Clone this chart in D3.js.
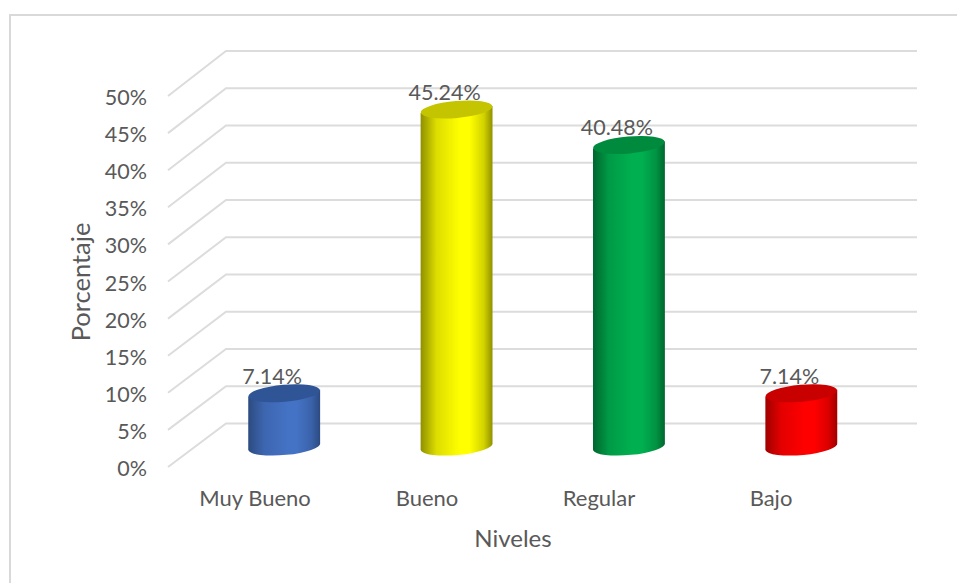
<!DOCTYPE html>
<html><head><meta charset="utf-8">
<script src="https://cdn.jsdelivr.net/npm/d3@7"></script>
<style>html,body{margin:0;padding:0;background:#fff}svg{display:block}text{font-family:Lato,"Open Sans",sans-serif;fill:#595959}</style>
</head><body><svg id="c" width="957" height="583"></svg>
<script>
const categories = ["Muy Bueno","Bueno","Regular","Bajo"];
const values = [7.14,45.24,40.48,7.14];
const valueLabels = ["7.14%","45.24%","40.48%","7.14%"];
const sideColors = ["#4472C4","#FFFF00","#00B050","#FF0000"];
const edgeColors = ["#2C4A80","#8F8F00","#00662E","#A00000"];
const topColors = ["#2F5597","#C4C400","#008A3E","#C80000"];
const ticks = [0,5,10,15,20,25,30,35,40,45,50];
const yTitle = "Porcentaje", xTitle = "Niveles";

const svg=d3.select("#c");
const yFront=d3.scaleLinear().domain([0,50]).range([467,96]);
const yBack=d3.scaleLinear().domain([0,50]).range([423.5,51]);
const yBar=d3.scaleLinear().domain([0,50]).range([446.5,74]);
const x=d3.scaleBand().domain(categories).range([198,887.5]).paddingInner(0.583).paddingOuter(0.2915);
const xLabel=d3.scaleBand().domain(categories).range([169,857]);

svg.append("path").attr("d","M10,583V15H957").attr("fill","none").attr("stroke","#d9d9d9").attr("stroke-width",2);

const g=svg.append("g");
ticks.forEach(t=>{
  g.append("polyline").attr("fill","none").attr("stroke","#dcdcdc").attr("stroke-width",2)
   .attr("points",`168,${yFront(t)} 226,${yBack(t)} 917,${yBack(t)}`);
  svg.append("text").attr("x",147).attr("y",yFront(t)+9).attr("text-anchor","end").attr("font-size",21.5).text(t+"%");
});

const defs=svg.append("defs");
categories.forEach((c,i)=>{
  const gr=defs.append("linearGradient").attr("id","g"+i);
  const mix=d3.interpolateRgb(edgeColors[i],sideColors[i]);
  [[0,mix(0)],[0.22,mix(0.7)],[0.55,mix(1)],[0.68,mix(1)],[0.88,mix(0.6)],[1,mix(0)]].forEach(s=>gr.append("stop").attr("offset",s[0]).attr("stop-color",s[1]));
  const rx=x.bandwidth()/2, ry=8.5, cx=x(c)+rx, dy=3.5, rot=-5;
  const yb=yBar(0), yt=yBar(values[i]);
  svg.append("path").attr("fill",`url(#g${i})`)
    .attr("d",`M${cx-rx},${yt+dy}L${cx-rx},${yb+dy}A${rx},${ry} ${rot} 0 0 ${cx+rx},${yb-dy}L${cx+rx},${yt-dy}Z`);
  svg.append("ellipse").attr("cx",cx).attr("cy",yt).attr("rx",rx).attr("ry",ry).attr("fill",topColors[i])
    .attr("transform",`rotate(${rot} ${cx} ${yt})`);
  svg.append("text").attr("x",cx-12).attr("y",yt-9.5).attr("text-anchor","middle").attr("font-size",21.5).text(valueLabels[i]);
  svg.append("text").attr("x",xLabel(c)+xLabel.bandwidth()/2).attr("y",506).attr("text-anchor","middle").attr("font-size",22).text(c);
});
svg.append("text").attr("x",513).attr("y",547).attr("text-anchor","middle").attr("font-size",24).text(xTitle);
svg.append("text").attr("transform","translate(90,282) rotate(-90)").attr("text-anchor","middle").attr("font-size",25.5).text(yTitle);
</script></body></html>
